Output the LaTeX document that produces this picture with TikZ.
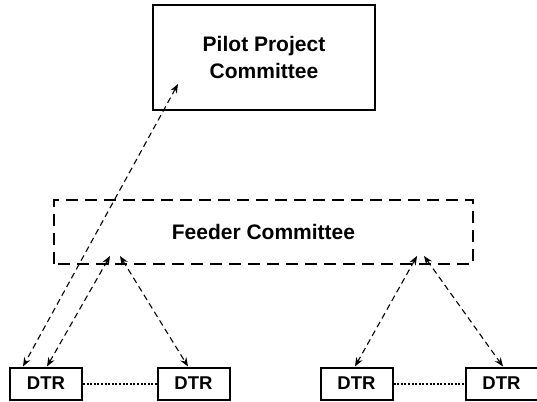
\documentclass[tikz,border=0pt]{standalone}
\usepackage{fontspec}
\setmainfont{Liberation Sans}
\usetikzlibrary{arrows.meta}
\begin{document}
\begin{tikzpicture}[x=1pt,y=-1pt,
  box/.style={draw, line width=2pt, font=\bfseries\fontsize{21}{27}\selectfont, align=center, inner sep=0pt},
  dtr/.style={box, minimum width=72pt, minimum height=32pt, font=\bfseries\fontsize{18.5}{22}\selectfont},
  link/.style={line width=1.1pt, dash pattern=on 6pt off 4pt, {Stealth[length=9pt,width=7pt,inset=3pt]}-{Stealth[length=9pt,width=7pt,inset=3pt]}},
  peer/.style={line width=2pt, dash pattern=on 2pt off 1.6pt}]
\useasboundingbox (0,0) rectangle (537,401);
% committees
\node[box, minimum width=222pt, minimum height=105pt] (pilot) at (264,57.5) {Pilot Project\\Committee};
\node[box, draw=none, minimum width=417pt, minimum height=62pt] (feeder) at (263.5,232) {Feeder Committee};
\draw[line width=2pt, dash pattern=on 12pt off 7pt] (feeder.south west) rectangle (feeder.north east);
% district representatives
\node[dtr] (d1) at (46,383.5) {DTR};
\node[dtr] (d2) at (193.5,383.5) {DTR};
\node[dtr] (d3) at (356.5,383.5) {DTR};
\node[dtr] (d4) at (501.5,383.5) {DTR};
\draw[peer] (d1.east) -- (d2.west);
\draw[peer] (d3.east) -- (d4.west);
% reporting links
\coordinate (pa) at (178,84);
\coordinate (fa) at (110,256);
\coordinate (fb) at (120,256);
\coordinate (fc) at (417,256);
\coordinate (fd) at (424,256);
\draw[link] (pa) -- (d1.north west -| 23,0);
\draw[link] (fa) -- (d1.north -| 47,0);
\draw[link] (fb) -- (d2.north -| 188,0);
\draw[link] (fc) -- (d3.north -| 355,0);
\draw[link] (fd) -- (d4.north -| 503,0);
\end{tikzpicture}
\end{document}
